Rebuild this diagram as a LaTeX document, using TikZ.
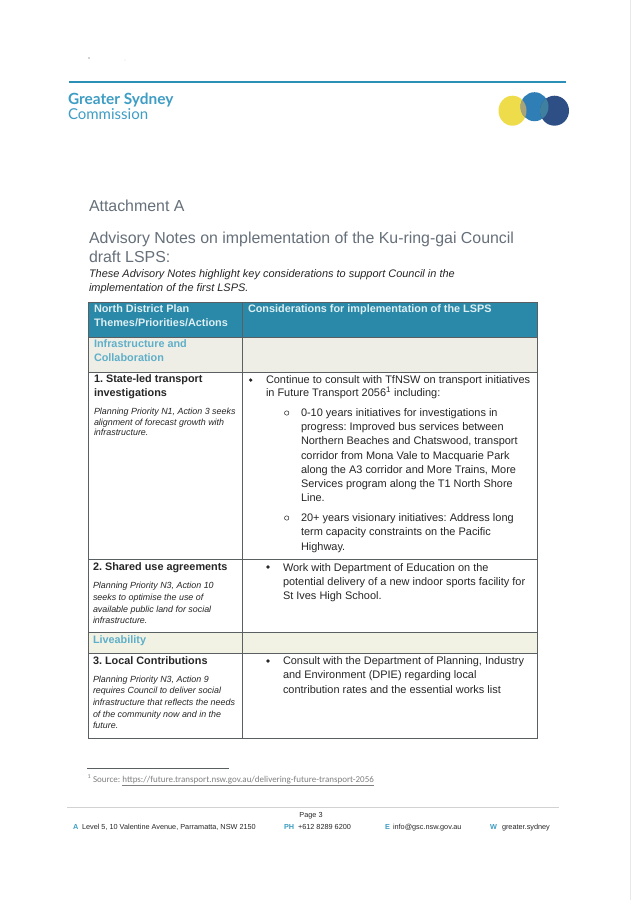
\documentclass[tikz,border=0pt]{standalone}
\usepackage{fontspec}
\setmainfont{Liberation Sans}
\newfontfamily\brandfont{Lato}
\newfontfamily\notefont{Carlito}
\frenchspacing
\definecolor{ink}{HTML}{262626}
\definecolor{headfill}{HTML}{2A88A8}
\definecolor{sectxt}{HTML}{5FAFC8}
\definecolor{secfill}{HTML}{EFEEE6}
\definecolor{livefill}{HTML}{F1F2E4}
\definecolor{headtxt}{HTML}{DDEFF3}
\definecolor{brand}{HTML}{3E9DC4}
\definecolor{titlec}{HTML}{66707A}
\definecolor{gridc}{HTML}{5A5F62}
\definecolor{rulec}{HTML}{2C8FB5}
\definecolor{logoy}{HTML}{EFDC4A}
\definecolor{logob}{HTML}{2F7FB6}
\definecolor{logod}{HTML}{2D4F85}
\definecolor{logoyb}{HTML}{A8A37A}
\definecolor{logobd}{HTML}{3F7FA0}
\tikzset{
 txt/.style={anchor=base west,inner sep=0pt,outer sep=0pt,text=ink},
 body/.style={txt,font=\fontsize{10.95}{13}\selectfont},
 boldhead/.style={txt,font=\fontsize{10.85}{13}\selectfont\bfseries},
 smallit/.style={txt,font=\fontsize{8.9}{11}\selectfont\itshape},
 headcell/.style={txt,text=headtxt,font=\fontsize{10.85}{13}\selectfont\bfseries},
 seccell/.style={txt,text=sectxt,font=\fontsize{10.85}{13}\selectfont\bfseries},
 titletxt/.style={txt,text=titlec,font=\fontsize{15.9}{19}\selectfont},
 introtxt/.style={txt,font=\fontsize{10.95}{13}\selectfont\itshape},
 foot/.style={txt,font=\fontsize{7.3}{9}\selectfont},
 footkey/.style={txt,text=brand,font=\fontsize{7.3}{9}\selectfont\bfseries},
 grid/.style={draw=gridc,line width=0.9pt},
 dotb/.style={circle,fill=ink,inner sep=0pt,minimum size=3.6pt},
 ringb/.style={circle,draw=ink,line width=0.5pt,inner sep=0pt,minimum size=4.4pt},
}
\begin{document}
\begin{tikzpicture}[x=1pt,y=-1pt]
\useasboundingbox (0,0) rectangle (637,900);
\fill[white] (0,0) rectangle (637,900);
% scan specks and page edge
\fill[gray!70] (89,58) circle (0.8);
\fill[gray!40] (125,60) circle (0.5);
\draw[gray!18,line width=1pt] (630,0) -- (630,900);
% letterhead
\draw[rulec,line width=1.3pt] (69,82) -- (566,82);
\node[txt,text=brand,font=\fontsize{15.4}{18}\selectfont\brandfont\bfseries] (gs) at (68,104) {Greater Sydney};
\node[txt,text=brand,font=\fontsize{15}{18}\selectfont\brandfont] (gc) at (68,119) {Commission};
% logo
\fill[logoy] (512.5,110.7) ellipse (14 and 15);
\fill[logob] (534.5,106.7) ellipse (14 and 14.5);
\fill[logod] (554.5,110.7) ellipse (14.5 and 15);
\begin{scope}
\clip (512.5,110.7) ellipse (14 and 15);
\fill[logoyb] (534.5,106.7) ellipse (14 and 14.5);
\end{scope}
\begin{scope}
\clip (534.5,106.7) ellipse (14 and 14.5);
\fill[logobd] (554.5,110.7) ellipse (14.5 and 15);
\end{scope}
% titles
\node[titletxt] (att) at (89,211.7) {Attachment A};
\node[titletxt] (adv1) at (89,243) {Advisory Notes on implementation of the Ku-ring-gai Council};
\node[titletxt] (adv2) at (89,262) {draft LSPS:};
\node[introtxt] (int1) at (89,277) {These Advisory Notes highlight key considerations to support Council in the};
\node[introtxt] (int2) at (89,291) {implementation of the first LSPS.};
% table fills
\fill[headfill] (88,302) rectangle (537,337);
\fill[secfill] (88,337) rectangle (537,372);
\fill[livefill] (88,632) rectangle (537,653);
% table grid
\draw[grid] (88,302) rectangle (537,738);
\draw[grid] (242,302) -- (242,738);
\draw[grid] (88,337) -- (537,337);
\draw[grid] (88,372) -- (537,372);
\draw[grid] (88,559.5) -- (537,559.5);
\draw[grid] (88,632) -- (537,632);
\draw[grid] (88,653) -- (537,653);
% header
\node[headcell] (h1a) at (94,312) {North District Plan};
\node[headcell] (h1b) at (94,326) {Themes/Priorities/Actions};
\node[headcell] (h2) at (248,312) {Considerations for implementation of the LSPS};
% section 1
\node[seccell] (s1a) at (94,347) {Infrastructure and};
\node[seccell] (s1b) at (94,361) {Collaboration};
% row 1
\node[boldhead] (r1a) at (94,382) {1. State-led transport};
\node[boldhead] (r1b) at (94,396) {investigations};
\node[smallit] (r1c) at (94,414.7) {Planning Priority N1, Action 3 seeks};
\node[smallit] (r1d) at (94,425) {alignment of forecast growth with};
\node[smallit] (r1e) at (94,435) {infrastructure.};
\node[dotb] (b1) at (250.7,380) {};
\node[body] (t1a) at (266,383) {Continue to consult with TfNSW on transport initiatives};
\node[body] (t1b) at (266,396.7) {in Future Transport 2056\textsuperscript{1} including:};
\node[ringb] (o1) at (286.7,413) {};
\node[body] (t2a) at (301,416) {0-10 years initiatives for investigations in};
\node[body] (t2b) at (301,430) {progress: Improved bus services between};
\node[body] (t2c) at (301,444) {Northern Beaches and Chatswood, transport};
\node[body] (t2d) at (301,459) {corridor from Mona Vale to Macquarie Park};
\node[body] (t2e) at (301,473) {along the A3 corridor and More Trains, More};
\node[body] (t2f) at (301,487) {Services program along the T1 North Shore};
\node[body] (t2g) at (301,501) {Line.};
\node[ringb] (o2) at (286.7,518) {};
\node[body] (t3a) at (301,521) {20+ years visionary initiatives: Address long};
\node[body] (t3b) at (301,535) {term capacity constraints on the Pacific};
\node[body] (t3c) at (301,550) {Highway.};
% row 2
\node[boldhead] (r2a) at (93,570) {2. Shared use agreements};
\node[smallit] (r2b) at (93,588) {Planning Priority N3, Action 10};
\node[smallit] (r2c) at (93,600) {seeks to optimise the use of};
\node[smallit] (r2d) at (93,612) {available public land for social};
\node[smallit] (r2e) at (93,623) {infrastructure.};
\node[dotb] (b2) at (268,567) {};
\node[body] (t4a) at (283,571) {Work with Department of Education on the};
\node[body] (t4b) at (283,585) {potential delivery of a new indoor sports facility for};
\node[body] (t4c) at (283,599) {St Ives High School.};
% section 2
\node[seccell] (s2) at (93,643) {Liveability};
% row 3
\node[boldhead] (r3a) at (93,664) {3. Local Contributions};
\node[smallit] (r3b) at (93,682) {Planning Priority N3, Action 9};
\node[smallit] (r3c) at (93,693) {requires Council to deliver social};
\node[smallit] (r3d) at (93,705) {infrastructure that reflects the needs};
\node[smallit] (r3e) at (93,717) {of the community now and in the};
\node[smallit] (r3f) at (93,728) {future.};
\node[dotb] (b3) at (268,661) {};
\node[body] (t5a) at (283,664) {Consult with the Department of Planning, Industry};
\node[body] (t5b) at (283,678) {and Environment (DPIE) regarding local};
\node[body] (t5c) at (283,693) {contribution rates and the essential works list};
% footnote
\draw[gridc,line width=0.8pt] (87,768) -- (229,768);
\node[txt,text=gray,font=\fontsize{9}{11}\selectfont\notefont] (fn) at (87.5,782) {\textsuperscript{1} Source: \underline{https://future.transport.nsw.gov.au/delivering-future-transport-2056}};
% footer
\draw[gray!35,line width=0.7pt] (67,807) -- (559,807);
\node[foot,anchor=base] (pg) at (311,817) {Page 3};
\node[footkey] (fa) at (73,829) {A};
\node[foot] (fat) at (82,829) {Level 5, 10 Valentine Avenue, Parramatta, NSW 2150};
\node[footkey] (fp) at (284,829) {PH};
\node[foot] (fpt) at (298,829) {+612 8289 6200};
\node[footkey] (fe) at (385,829) {E};
\node[foot] (fet) at (393,829) {info@gsc.nsw.gov.au};
\node[footkey] (fw) at (490,829) {W};
\node[foot] (fwt) at (502,829) {greater.sydney};
\end{tikzpicture}
\end{document}
